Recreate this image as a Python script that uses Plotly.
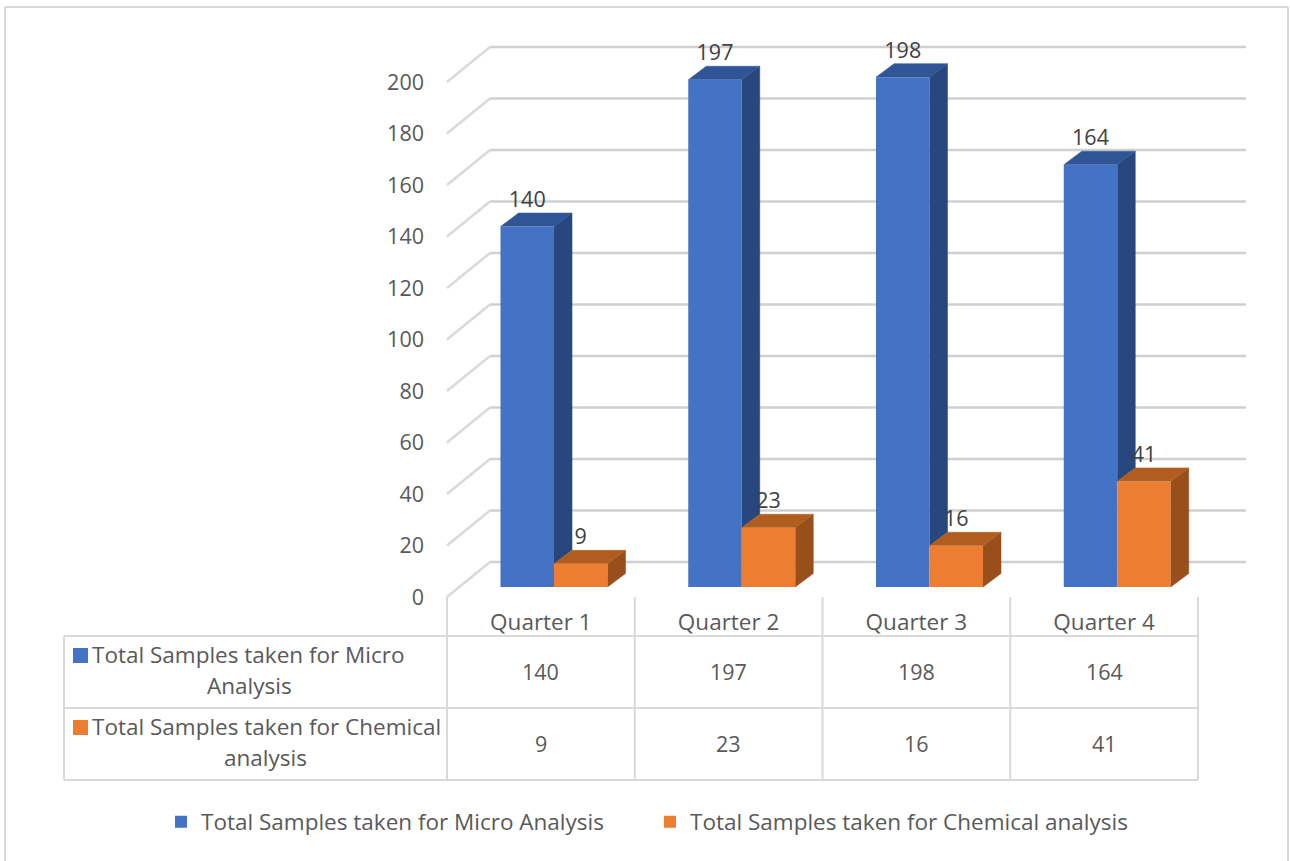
import plotly.graph_objects as go

# Data
quarters = ["Quarter 1", "Quarter 2", "Quarter 3", "Quarter 4"]
micro_name = "Total Samples taken for Micro Analysis"
chem_name = "Total Samples taken for Chemical analysis"
micro_samples = [140, 197, 198, 164]
chem_samples = [9, 23, 16, 41]
value_ticks = [0, 20, 40, 60, 80, 100, 120, 140, 160, 180, 200]

# Canvas and scales
WIDTH, HEIGHT = 1290, 861
ORIGIN_X, ORIGIN_Y = 447, 597      # pixel of category 0 / value 0
CAT_PX, VAL_PX = 187.75, 2.575     # pixels per category / per value unit

# Perspective offsets, expressed in axis units
WALL_DX, WALL_DY = 43 / CAT_PX, 35 / VAL_PX
WALL_OVERHANG = 5 / CAT_PX
BAR_DX, BAR_DY = 18 / CAT_PX, 13.5 / VAL_PX
FLOOR_LIFT = 10 / VAL_PX
GROUP_CENTRE = 0.570
BAR_WIDTH = 0.285
LABEL_RISE = 25 / VAL_PX

# Colours
INK = "#595959"
LABEL_INK = "#404040"
RULE = "#D9D9D9"
GRID = "#D0D0D0"
BLUE, BLUE_TOP, BLUE_SIDE = "#4472C4", "#2F5597", "#28477F"
ORANGE, ORANGE_TOP, ORANGE_SIDE = "#ED7D31", "#B25D20", "#984F1B"

FONT = "Open Sans"
TEXT_SIZE = 22.5    # words: quarter names, row headers, legend
DIGIT_SIZE = 21.5   # numbers: ticks, table values, column labels


def fx(px):
    return px / WIDTH


def fy(px):
    return 1 - px / HEIGHT


def polygon(xs, ys, colour):
    return go.Scatter(x=xs, y=ys, mode="lines", fill="toself", fillcolor=colour,
                      line=dict(color=colour, width=0.5), showlegend=False,
                      hoverinfo="skip")


fig = go.Figure()

# Front faces of the columns
group_x = [i + GROUP_CENTRE for i in range(len(quarters))]
fig.add_trace(go.Bar(name=micro_name, x=group_x, y=micro_samples, base=FLOOR_LIFT,
                     marker=dict(color=BLUE, line=dict(width=0))))
fig.add_trace(go.Bar(name=chem_name, x=group_x, y=chem_samples, base=FLOOR_LIFT,
                     marker=dict(color=ORANGE, line=dict(width=0))))

# Top and side faces; the blue side stops where the orange column starts
for cx, m, c in zip(group_x, micro_samples, chem_samples):
    mtop, ctop, floor = m + FLOOR_LIFT, c + FLOOR_LIFT, FLOOR_LIFT
    left, mid, right = cx - BAR_WIDTH, cx, cx + BAR_WIDTH
    fig.add_trace(polygon([mid, mid + BAR_DX, mid + BAR_DX, mid],
                          [ctop, ctop + BAR_DY, mtop + BAR_DY, mtop], BLUE_SIDE))
    fig.add_trace(polygon([left, left + BAR_DX, mid + BAR_DX, mid],
                          [mtop, mtop + BAR_DY, mtop + BAR_DY, mtop], BLUE_TOP))
    fig.add_trace(polygon([right, right + BAR_DX, right + BAR_DX, right],
                          [floor, floor + BAR_DY, ctop + BAR_DY, ctop], ORANGE_SIDE))
    fig.add_trace(polygon([mid, mid + BAR_DX, right + BAR_DX, right],
                          [ctop, ctop + BAR_DY, ctop + BAR_DY, ctop], ORANGE_TOP))

# Value labels above each column
label_font = dict(family=FONT, size=DIGIT_SIZE, color=LABEL_INK)
fig.add_trace(go.Scatter(
    x=[x - BAR_WIDTH / 2 for x in group_x],
    y=[v + FLOOR_LIFT + LABEL_RISE for v in micro_samples],
    text=[str(v) for v in micro_samples], mode="text", textposition="middle center",
    textfont=label_font, showlegend=False, hoverinfo="skip"))
fig.add_trace(go.Scatter(
    x=[x + BAR_WIDTH / 2 for x in group_x],
    y=[v + FLOOR_LIFT + LABEL_RISE for v in chem_samples],
    text=[str(v) for v in chem_samples], mode="text", textposition="middle center",
    textfont=label_font, showlegend=False, hoverinfo="skip"))

shapes = []

# Back-wall gridlines and the diagonal side-wall segments
n = len(quarters)
for v in value_ticks:
    shapes.append(dict(type="line", xref="x", yref="y", layer="below",
                       x0=WALL_DX, x1=n + WALL_DX + WALL_OVERHANG,
                       y0=v + WALL_DY, y1=v + WALL_DY,
                       line=dict(color=GRID, width=2.5)))
    shapes.append(dict(type="line", xref="x", yref="y", layer="below",
                       x0=0, x1=WALL_DX, y0=v, y1=v + WALL_DY,
                       line=dict(color=RULE, width=2.5)))


def rule(x0, y0, x1, y1):
    shapes.append(dict(type="line", xref="paper", yref="paper", layer="below",
                       x0=fx(x0), x1=fx(x1), y0=fy(y0), y1=fy(y1),
                       line=dict(color=RULE, width=2)))


# Data table grid
TABLE_LEFT, TABLE_TOP, TABLE_MID, TABLE_BOTTOM = 64, 636, 708, 780
for i in range(n + 1):
    px = ORIGIN_X + i * CAT_PX
    rule(px, ORIGIN_Y, px, TABLE_BOTTOM)
rule(TABLE_LEFT, TABLE_TOP, TABLE_LEFT, TABLE_BOTTOM)
table_right = ORIGIN_X + n * CAT_PX
for py in (TABLE_TOP, TABLE_MID, TABLE_BOTTOM):
    rule(TABLE_LEFT, py, table_right, py)

# Chart frame
rule(5, 7, 1288, 7)
rule(5, 7, 5, HEIGHT)
rule(1288, 7, 1288, HEIGHT)

# Colour keys in the table's row headers
for py, colour in ((648, BLUE), (720, ORANGE)):
    shapes.append(dict(type="rect", xref="paper", yref="paper", layer="above",
                       x0=fx(73), x1=fx(88), y0=fy(py), y1=fy(py + 15),
                       fillcolor=colour, line=dict(width=0)))

annotations = []


def cell(text, px, py, anchor="center", size=DIGIT_SIZE):
    annotations.append(dict(text=text, xref="paper", yref="paper", x=fx(px), y=fy(py),
                            xanchor=anchor, yanchor="middle", showarrow=False,
                            font=dict(family=FONT, size=size, color=INK)))


first_row, second_row = micro_name.split(" Analysis")[0], chem_name.split(" analysis")[0]
cell(first_row, 90, 654, "left", TEXT_SIZE)
cell("Analysis", 249, 685, size=TEXT_SIZE)
cell(second_row, 90, 726, "left", TEXT_SIZE)
cell("analysis", 265, 757, size=TEXT_SIZE)
for i, (m, c) in enumerate(zip(micro_samples, chem_samples)):
    px = ORIGIN_X + (i + 0.5) * CAT_PX
    cell(str(m), px, 671)
    cell(str(c), px, 743)

word_font = dict(family=FONT, size=TEXT_SIZE, color=INK)
digit_font = dict(family=FONT, size=DIGIT_SIZE, color=INK)
fig.update_layout(
    width=WIDTH, height=HEIGHT,
    margin=dict(l=0, r=0, t=0, b=0),
    paper_bgcolor="white", plot_bgcolor="rgba(0,0,0,0)",
    barmode="group", bargap=1 - 2 * BAR_WIDTH, bargroupgap=0,
    shapes=shapes, annotations=annotations,
    legend=dict(orientation="h", x=fx(161), y=fy(822), xanchor="left", yanchor="middle",
                font=word_font, itemwidth=30, traceorder="normal",
                entrywidth=444, entrywidthmode="pixels", bgcolor="rgba(0,0,0,0)"),
    xaxis=dict(domain=[0, 1], anchor="free", position=fy(ORIGIN_Y),
               range=[-ORIGIN_X / CAT_PX, (WIDTH - ORIGIN_X) / CAT_PX],
               tickmode="array", tickvals=[i + 0.5 for i in range(n)], ticktext=quarters,
               tickfont=word_font, ticks="", ticklabelstandoff=9, showgrid=False,
               showline=False, zeroline=False, fixedrange=True),
    yaxis=dict(domain=[0, 1], anchor="free", position=fx(ORIGIN_X),
               range=[(ORIGIN_Y - HEIGHT) / VAL_PX, ORIGIN_Y / VAL_PX],
               tickmode="array", tickvals=value_ticks,
               tickfont=digit_font, ticks="", ticklabelstandoff=23, showgrid=False,
               showline=False, zeroline=False, fixedrange=True),
)

fig.write_html("out.html", config={"displayModeBar": False})
